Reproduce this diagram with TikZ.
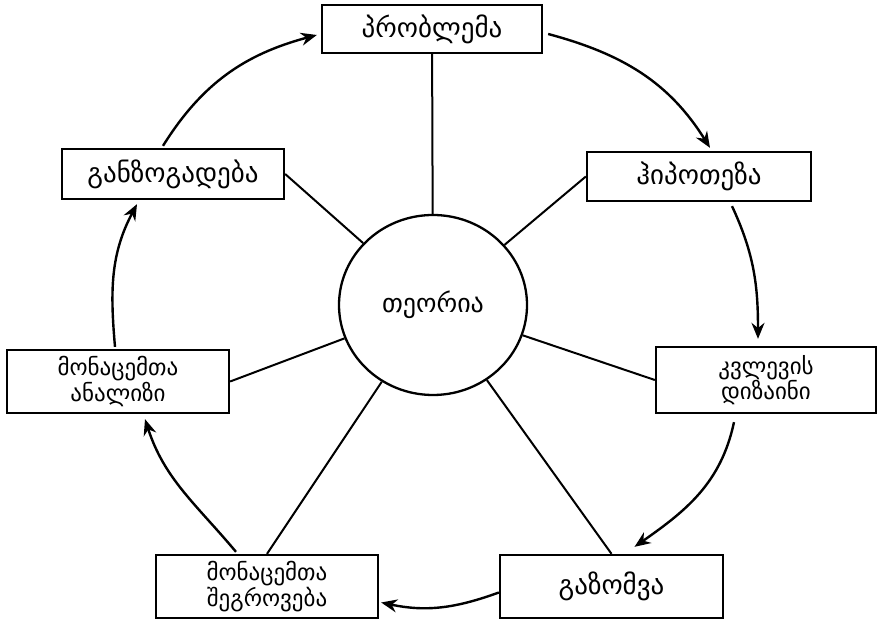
\documentclass[tikz,border=0pt]{standalone}
\usepackage{fontspec}
\newfontfamily\geo{DejaVu Sans}
\usetikzlibrary{arrows.meta,shapes.geometric}
\begin{document}
\begin{tikzpicture}[x=1pt,y=1pt,
  stage/.style={draw, line width=2.3pt, inner sep=0pt, align=center,
    font=\geo\fontsize{27}{29}\selectfont},
  stagetwo/.style={stage, font=\geo\fontsize{23}{24}\selectfont},
  core/.style={draw, ellipse, line width=2.3pt, inner sep=0pt,
    minimum width=188, minimum height=180, font=\geo\fontsize{26}{28}\selectfont},
  spoke/.style={line width=2pt},
  flow/.style={line width=2.4pt, -{Stealth[length=16pt,width=13pt]}}]
\fill[white] (0,0) rectangle (878,623);
\useasboundingbox (0,0) rectangle (878,623);

% stages of the research cycle
\node[stage, minimum width=220, minimum height=48] (prob) at (432,594) {პრობლემა};
\node[stage, minimum width=224, minimum height=49] (hyp) at (699,446.5) {ჰიპოთეზა};
\node[stagetwo, minimum width=220, minimum height=66] (design) at (766,243) {კვლევის\\დიზაინი};
\node[stage, minimum width=223, minimum height=63] (meas) at (611.5,36.5) {გაზომვა};
\node[stagetwo, minimum width=222, minimum height=63] (coll) at (267,36.5) {მონაცემთა\\შეგროვება};
\node[stagetwo, minimum width=222, minimum height=63] (anal) at (118,241.5) {მონაცემთა\\ანალიზი};
\node[stage, minimum width=222, minimum height=50] (gen) at (173,449) {განზოგადება};

% theory in the middle
\node[core] (theory) at (433,318) {თეორია};

% spokes from theory to each stage
\draw[spoke] (theory) -- (prob);
\draw[spoke] (theory) -- (hyp.west);
\draw[spoke] (theory) -- (design.west);
\draw[spoke] (theory) -- (meas.north);
\draw[spoke] (theory) -- (coll.north);
\draw[spoke] (theory) -- (anal.east);
\draw[spoke] (theory) -- (gen.east);

% the cycle, clockwise
\draw[flow] ([xshift=-10pt,yshift=2pt]gen.north) to[out=58,in=195] ([xshift=-4pt,yshift=-6pt]prob.west);
\draw[flow] ([xshift=5pt,yshift=-5pt]prob.east) to[out=-15,in=122] ([xshift=11pt,yshift=3pt]hyp.north);
\draw[flow] ([xshift=33pt,yshift=-4pt]hyp.south) to[out=-65,in=90] ([xshift=-8pt,yshift=7pt]design.north);
\draw[flow] ([xshift=-32pt,yshift=-8pt]design.south) to[out=-102,in=35] ([xshift=23pt,yshift=7pt]meas.north);
\draw[flow] ([yshift=-6pt]meas.west) to[out=200,in=-12] ([xshift=2pt,yshift=-16pt]coll.east);
\draw[flow] ([xshift=-31pt,yshift=2pt]coll.north) to[out=130,in=-72] ([xshift=27pt,yshift=-5pt]anal.south);
\draw[flow] ([xshift=-3pt,yshift=2pt]anal.north) to[out=95,in=-118] ([xshift=-36pt,yshift=-4pt]gen.south);
\end{tikzpicture}
\end{document}
